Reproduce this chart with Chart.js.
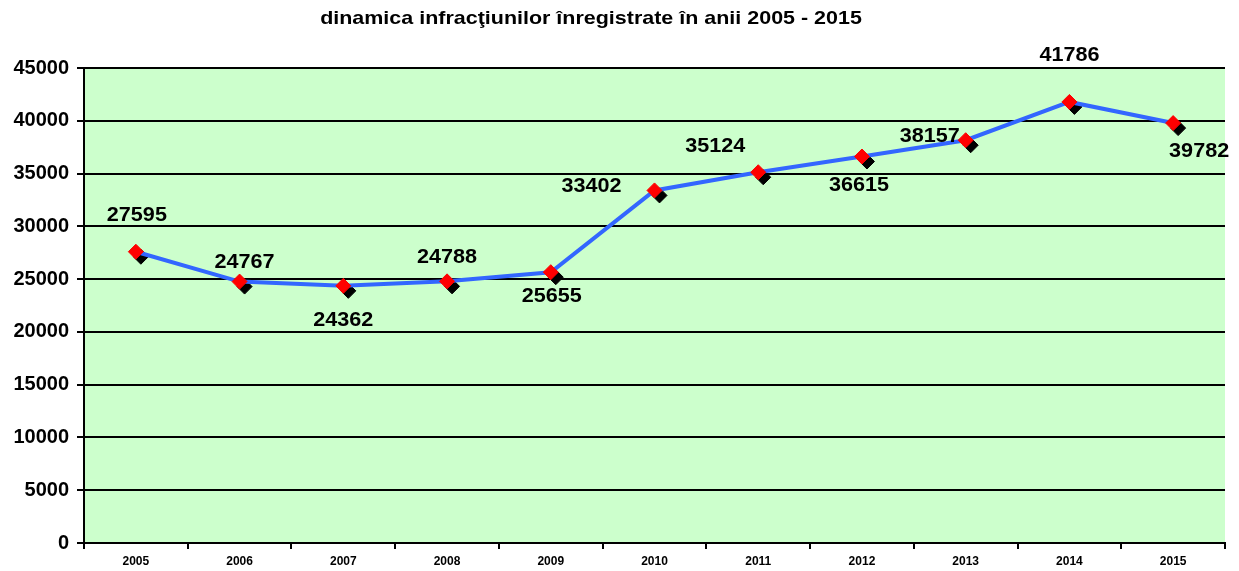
<!DOCTYPE html>
<html>
<head>
<meta charset="utf-8">
<script src="https://cdn.jsdelivr.net/npm/chart.js@4/dist/chart.umd.min.js"></script>
<style>
html,body{margin:0;padding:0;background:#fff;}
#wrap{width:1239px;height:571px;position:relative;}
</style>
</head>
<body>
<div id="wrap"><canvas id="c" width="1239" height="571"></canvas></div>
<script>
const chartTitle = 'dinamica infracţiunilor înregistrate în anii 2005 - 2015';
const years = ['2005','2006','2007','2008','2009','2010','2011','2012','2013','2014','2015'];
const crimes = [27595, 24767, 24362, 24788, 25655, 33402, 35124, 36615, 38157, 41786, 39782];
const yTicks = [0, 5000, 10000, 15000, 20000, 25000, 30000, 35000, 40000, 45000];

const FONT = '"Liberation Sans", Arial, sans-serif';

// label offsets (style) relative to each point
const labelOffsets = [[1,-36],[5,-19],[0,35],[0,-24],[1,24],[-63,-4],[-43,-26],[-3,29],[-36,-4],[0,-46],[26,28]];

const bgPlugin = {
  id: 'bg',
  beforeDraw(chart) {
    const {ctx, chartArea: a} = chart;
    ctx.save();
    ctx.fillStyle = '#CCFFCC';
    ctx.fillRect(a.left, a.top, a.right - a.left, a.bottom - a.top);
    ctx.restore();
  }
};

function stretchedText(ctx, text, x, y, sx) {
  ctx.save();
  ctx.translate(x, y);
  ctx.scale(sx, 1);
  ctx.fillText(text, 0, 0);
  ctx.restore();
}

const titlePlugin = {
  id: 'customTitle',
  afterDraw(chart) {
    const ctx = chart.ctx;
    ctx.save();
    ctx.font = 'bold 19px ' + FONT;
    ctx.fillStyle = '#000';
    ctx.textAlign = 'center';
    ctx.textBaseline = 'middle';
    stretchedText(ctx, chartTitle, 591, 19, 1.13);
    ctx.restore();
  }
};

const shadowPlugin = {
  id: 'shadowShift',
  beforeDatasetDraw(chart, args) {
    if (args.index === 1) {
      chart.ctx.save();
      chart.ctx.translate(5, 5);
    }
  },
  afterDatasetDraw(chart, args) {
    if (args.index === 1) chart.ctx.restore();
  }
};

const labelPlugin = {
  id: 'valueLabels',
  afterDatasetsDraw(chart) {
    const ctx = chart.ctx;
    const meta = chart.getDatasetMeta(0);
    ctx.save();
    ctx.font = 'bold 20px ' + FONT;
    ctx.fillStyle = '#000';
    ctx.textAlign = 'center';
    ctx.textBaseline = 'middle';
    meta.data.forEach((pt, i) => {
      const o = labelOffsets[i] || [0, -25];
      stretchedText(ctx, String(crimes[i]), pt.x + o[0], pt.y + o[1], 1.08);
    });
    ctx.restore();
  }
};

new Chart(document.getElementById('c'), {
  type: 'line',
  data: {
    labels: years,
    datasets: [
      {
        label: 'infracţiuni',
        data: crimes,
        borderColor: '#3366FF',
        borderWidth: 4,
        pointStyle: 'rectRot',
        pointRadius: 7.5,
        pointBackgroundColor: '#FF0000',
        pointBorderColor: '#FF0000',
        pointBorderWidth: 1,
        tension: 0,
        order: 1
      },
      {
        label: 'shadow',
        data: crimes,
        showLine: false,
        pointStyle: 'rectRot',
        pointRadius: 7.5,
        pointBackgroundColor: '#000',
        pointBorderColor: '#000',
        pointBorderWidth: 1,
        order: 2
      }
    ]
  },
  options: {
    responsive: false,
    animation: false,
    devicePixelRatio: 1,
    layout: { padding: { top: 68, right: 14, left: 0, bottom: 0 } },
    plugins: {
      legend: { display: false },
      title: { display: false },
      tooltip: { enabled: false }
    },
    scales: {
      x: {
        offset: true,
        grid: { offset: true, drawOnChartArea: false, drawTicks: true, tickLength: 6, color: '#000', lineWidth: 2 },
        border: { color: '#000', width: 2 },
        ticks: { color: '#000', font: { family: FONT, size: 12, weight: 'bold' }, padding: 5, maxRotation: 0 },
        afterFit(s) { s.height = 28; }
      },
      y: {
        min: 0,
        max: 45000,
        afterBuildTicks(s) { s.ticks = yTicks.map(v => ({ value: v })); },
        grid: { color: '#000', lineWidth: 2, drawTicks: true, tickLength: 7 },
        border: { color: '#000', width: 2 },
        ticks: { color: '#000', font: { family: FONT, size: 20, weight: 'bold' }, padding: 8, callback: v => String(v) },
        afterFit(s) { s.width = 84; }
      }
    }
  },
  plugins: [bgPlugin, shadowPlugin, labelPlugin, titlePlugin]
});
</script>
</body>
</html>
